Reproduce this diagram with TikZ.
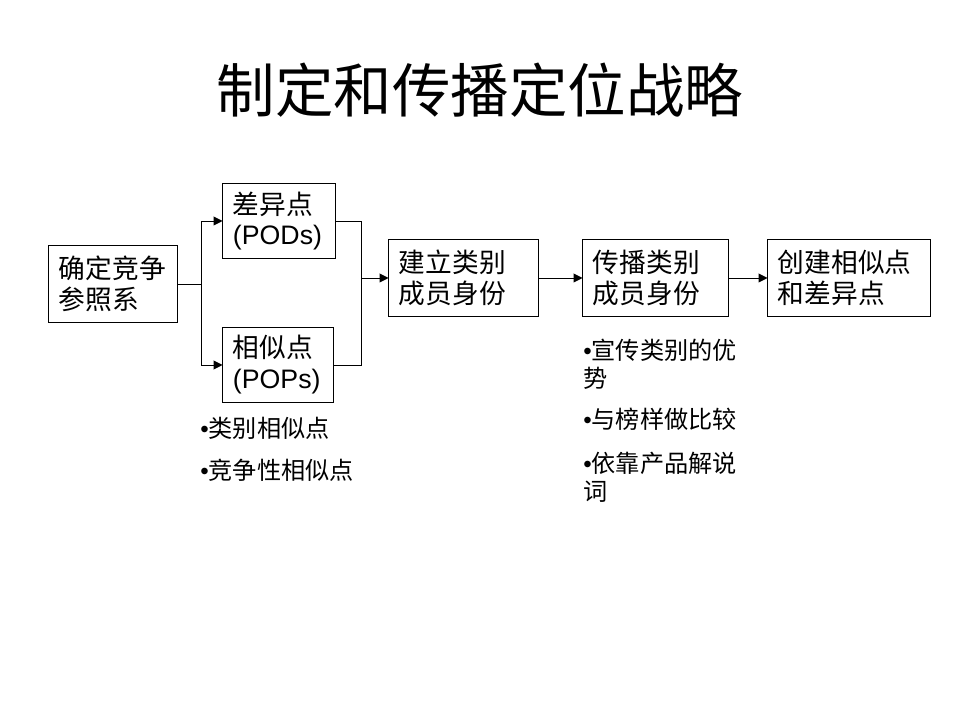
\documentclass[tikz,border=0pt]{standalone}
\usepackage{fontspec}
\setmainfont{Liberation Sans}
\newfontfamily\cjk{Noto Sans CJK SC}
\usetikzlibrary{arrows.meta}
\begin{document}
\begin{tikzpicture}[x=0.025cm,y=-0.025cm,
  box/.style={draw,line width=0.7pt,inner xsep=0.25cm,inner ysep=0pt,align=left,
    font=\fontsize{19pt}{22pt}\selectfont},
  conn/.style={line width=0.7pt},
  arr/.style={line width=0.7pt,-{Triangle[length=2.2mm,width=2.2mm]}},
  bul/.style={inner sep=0pt,anchor=west,font=\fontsize{17.2pt}{20pt}\selectfont},
  ttl/.style={inner sep=0pt,font=\fontsize{41.6pt}{48pt}\selectfont}]
\fill[white] (0,0) rectangle (960,720);
\useasboundingbox (0,0) rectangle (960,720);

\node[ttl] (title) at (480,90) {\cjk 制定和传播定位战略};

\node[box,minimum width=3.2cm,text width=2.7cm,minimum height=1.9cm] (ref) at (113,284) {\cjk 确定竞争\\参照系};
\node[box,minimum width=2.8cm,text width=2.3cm,minimum height=1.85cm] (pod) at (279,221) {{\cjk 差异点}\\(PODs)};
\node[box,minimum width=2.75cm,text width=2.25cm,minimum height=1.85cm] (pop) at (278,365) {{\cjk 相似点}\\(POPs)};
\node[box,minimum width=3.725cm,text width=3.225cm,minimum height=1.9cm] (est) at (463.5,278) {\cjk 建立类别\\成员身份};
\node[box,minimum width=3.625cm,text width=3.125cm,minimum height=1.9cm] (com) at (655.5,278) {\cjk 传播类别\\成员身份};
\node[box,minimum width=4.05cm,text width=3.55cm,minimum height=1.9cm] (cre) at (849,278) {\cjk 创建相似点\\和差异点};

\coordinate (split) at (201,284);
\coordinate (merge) at (361,278);
\draw[conn] (ref.east) -- (split);
\draw[arr] (split) |- (pod.west);
\draw[arr] (split) |- (pop.west);
\draw[conn] (pod.east) -| (merge);
\draw[conn] (pop.east) -| (merge);
\draw[arr] (merge) -- (est.west);
\draw[arr] (est.east) -- (com.west);
\draw[arr] (com.east) -- (cre.west);

\node[bul] (b1) at (200,428) {•{\cjk 类别相似点}};
\node[bul] (b2) at (200,470) {•{\cjk 竞争性相似点}};
\node[bul] (b3) at (583,350) {•{\cjk 宣传类别的优}};
\node[bul] (b3b) at (583,378) {\cjk 势};
\node[bul] (b4) at (583,419) {•{\cjk 与榜样做比较}};
\node[bul] (b5) at (583,463) {•{\cjk 依靠产品解说}};
\node[bul] (b5b) at (583,492) {\cjk 词};
\end{tikzpicture}
\end{document}
